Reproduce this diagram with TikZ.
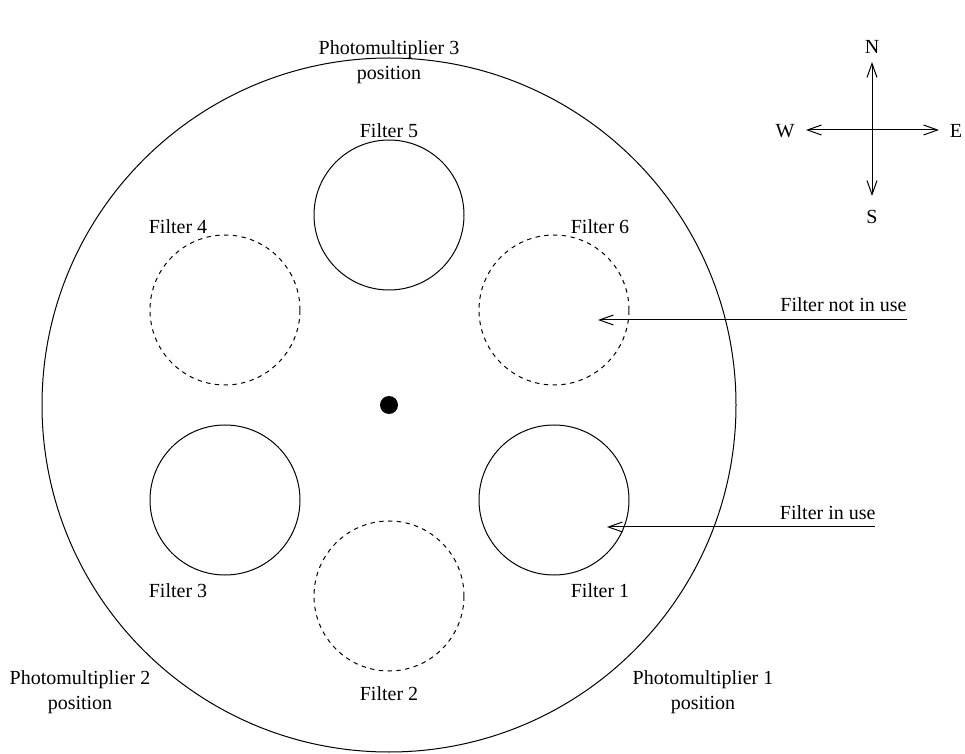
\documentclass[tikz,border=0pt]{standalone}
\usepackage{fontspec}
\setmainfont{Liberation Serif}
\usetikzlibrary{arrows.meta}
\tikzset{
  wheel/.style={draw, circle, inner sep=0pt, minimum size=347pt},
  filter/.style={draw, circle, inner sep=0pt, minimum size=75pt},
  unused/.style={filter, dash pattern=on 2.2pt off 2.2pt},
  hub/.style={fill, circle, inner sep=0pt, minimum size=9pt},
  lbl/.style={inner sep=0pt, align=center, font=\fontsize{10}{12.5}\selectfont},
  pointer/.style={-{Straight Barb[length=7pt,width=5pt]}},
}
\begin{document}
\begin{tikzpicture}[x=0.5pt, y=-0.5pt, line width=0.5pt]
    \useasboundingbox (0,0) rectangle (965,754);

    % filter wheel
    \node[wheel] (wheel) at (389,405) {};
    \node[hub] (hub) at (389,405) {};

    \node[filter] (f5) at (389,215) {};
    \node[unused] (f6) at (554,310) {};
    \node[filter] (f1) at (554,500) {};
    \node[unused] (f2) at (389,596) {};
    \node[filter] (f3) at (225,500) {};
    \node[unused] (f4) at (225,310) {};

    \node[lbl] (l5) at (389,131) {Filter 5};
    \node[lbl] (l6) at (600,227) {Filter 6};
    \node[lbl] (l1) at (600,591) {Filter 1};
    \node[lbl] (l2) at (389,694) {Filter 2};
    \node[lbl] (l3) at (178,591) {Filter 3};
    \node[lbl] (l4) at (178,227) {Filter 4};

    % photomultipliers
    \node[lbl] (pm3) at (389,62) {Photomultiplier 3\\position};
    \node[lbl] (pm2) at (80,692) {Photomultiplier 2\\position};
    \node[lbl] (pm1) at (703,692) {Photomultiplier 1\\position};

    % pointers
    \coordinate (nu) at (907,320);
    \coordinate (nutip) at (598,320);
    \node[lbl, anchor=base east] (nutext) at (907,312) {Filter not in use};
    \draw[pointer] (nu) -- (nutip);

    \coordinate (iu) at (875,527);
    \coordinate (iutip) at (607,527);
    \node[lbl, anchor=base east] (iutext) at (876,519) {Filter in use};
    \draw[pointer] (iu) -- (iutip);

    % compass
    \coordinate (cmp) at (872,130);
    \coordinate (cN) at (872,62);
    \coordinate (cS) at (872,196);
    \coordinate (cW) at (806,130);
    \coordinate (cE) at (939,130);
    \draw[pointer] (cmp) -- (cN);
    \draw[pointer] (cmp) -- (cS);
    \draw[pointer] (cmp) -- (cW);
    \draw[pointer] (cmp) -- (cE);
    \node[lbl] (N) at (872,47) {N};
    \node[lbl] (S) at (872,217) {S};
    \node[lbl] (W) at (785,131) {W};
    \node[lbl] (E) at (956,131) {E};
\end{tikzpicture}
\end{document}
